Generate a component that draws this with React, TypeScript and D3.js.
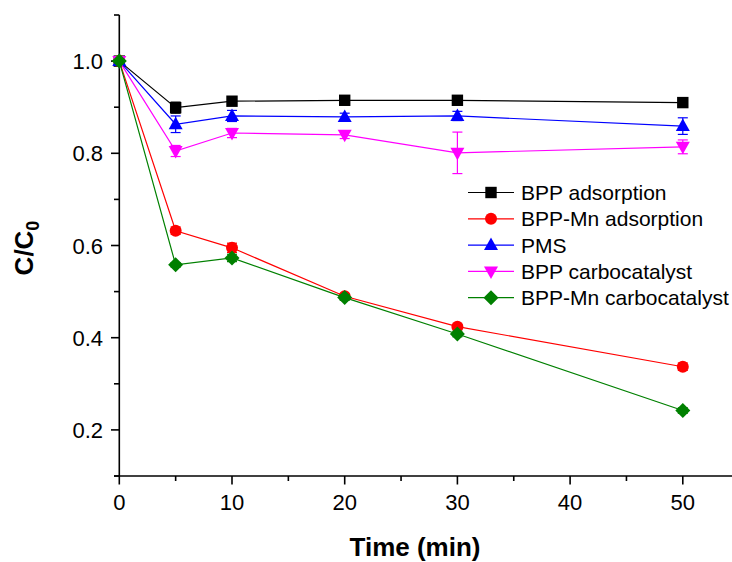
import React from "react";
import * as d3 from "d3";

const times = [0, 5, 10, 20, 30, 50];
const seriesNames = ["BPP adsorption", "BPP-Mn adsorption", "PMS", "BPP carbocatalyst", "BPP-Mn carbocatalyst"];
const bppAds = [1.0, 0.899, 0.913, 0.915, 0.915, 0.91];
const bppMnAds = [1.0, 0.632, 0.595, 0.49, 0.424, 0.337];
const pms = [1.0, 0.863, 0.881, 0.879, 0.881, 0.859];
const bppCat = [1.0, 0.805, 0.844, 0.84, 0.801, 0.814];
const bppMnCat = [1.0, 0.558, 0.573, 0.487, 0.408, 0.242];
const errBppAds = [0, 0.012, 0.005, 0.005, 0.005, 0.005];
const errBppMnAds = [0, 0.008, 0.01, 0.005, 0.005, 0.008];
const errPms = [0, 0.018, 0.012, 0.008, 0.01, 0.018];
const errBppCat = [0, 0.012, 0.01, 0.008, 0.045, 0.015];
const errBppMnCat = [0, 0.005, 0.008, 0.006, 0.006, 0.006];
const xMajorTicks = [0, 10, 20, 30, 40, 50];
const xMinorTicks = [5, 15, 25, 35, 45, 55];
const yMajorTicks = [0.2, 0.4, 0.6, 0.8, 1.0];
const yMinorTicks = [0.1, 0.3, 0.5, 0.7, 0.9, 1.1];

const colors = ["#000000", "#FF0000", "#0000FF", "#FF00FF", "#008000"];
const shapes = ["square", "circle", "triangleUp", "triangleDown", "diamond"];
const values = [bppAds, bppMnAds, pms, bppCat, bppMnCat];
const errors = [errBppAds, errBppMnAds, errPms, errBppCat, errBppMnCat];

const W = 732;
const H = 562;
const x = d3.scaleLinear().domain([0, 55]).range([119.3, 119.3 + 55 * 11.27]);
const y = d3.scaleLinear().domain([0.1, 1.1]).range([476, 15]);
const font = "Liberation Sans, Arial, sans-serif";

function Marker({ shape, cx, cy, color }: { shape: string; cx: number; cy: number; color: string }) {
  if (shape === "square") return <rect x={cx - 5.7} y={cy - 5.7} width={11.4} height={11.4} fill={color} />;
  if (shape === "circle") return <circle cx={cx} cy={cy} r={6} fill={color} />;
  if (shape === "triangleUp")
    return <path d={`M${cx},${cy - 7.5} L${cx + 7},${cy + 5} L${cx - 7},${cy + 5} Z`} fill={color} />;
  if (shape === "triangleDown")
    return <path d={`M${cx},${cy + 7.5} L${cx + 7},${cy - 5} L${cx - 7},${cy - 5} Z`} fill={color} />;
  return <path d={`M${cx},${cy - 7.5} L${cx + 7.5},${cy} L${cx},${cy + 7.5} L${cx - 7.5},${cy} Z`} fill={color} />;
}

export default function App() {
  const line = d3
    .line<number>()
    .x((_, i) => x(times[i]))
    .y((d) => y(d));
  const legendY0 = 192.5;
  const legendDy = 26.3;
  return (
    <svg width={W} height={H} style={{ position: "absolute", left: 0, top: 0, background: "#fff" }}>
      {/* axes */}
      <line x1={119.3} y1={15} x2={119.3} y2={476} stroke="#000" strokeWidth={1.6} />
      <line x1={114} y1={476} x2={W} y2={476} stroke="#000" strokeWidth={1.6} />
      {yMajorTicks.map((t) => (
        <g key={"ym" + t}>
          <line x1={111} x2={119.3} y1={y(t)} y2={y(t)} stroke="#000" strokeWidth={1.6} />
          <text x={103} y={y(t) + 8} textAnchor="end" fontFamily={font} fontSize={22}>
            {t.toFixed(1)}
          </text>
        </g>
      ))}
      {yMinorTicks.map((t) => (
        <line key={"yn" + t} x1={114} x2={119.3} y1={y(t)} y2={y(t)} stroke="#000" strokeWidth={1.6} />
      ))}
      {xMajorTicks.map((t) => (
        <g key={"xm" + t}>
          <line x1={x(t)} x2={x(t)} y1={476} y2={484.5} stroke="#000" strokeWidth={1.6} />
          <text x={x(t)} y={509.5} textAnchor="middle" fontFamily={font} fontSize={22}>
            {t}
          </text>
        </g>
      ))}
      {xMinorTicks.map((t) => (
        <line key={"xn" + t} x1={x(t)} x2={x(t)} y1={476} y2={481} stroke="#000" strokeWidth={1.6} />
      ))}
      <text x={415} y={556} textAnchor="middle" fontFamily={font} fontSize={26} fontWeight="bold">
        Time (min)
      </text>
      <text
        transform="translate(33,248) rotate(-90)"
        textAnchor="middle"
        fontFamily={font}
        fontSize={26}
        fontWeight="bold"
      >
        C/C
        <tspan fontSize={18} dy={6}>
          0
        </tspan>
      </text>

      {/* series */}
      {values.map((vals, si) => (
        <g key={"s" + si}>
          <path d={line(vals) || ""} fill="none" stroke={colors[si]} strokeWidth={1.2} />
          {vals.map((v, i) => {
            const e = errors[si][i];
            if (!e) return null;
            const cx = x(times[i]);
            return (
              <g key={"e" + i} stroke={colors[si]} strokeWidth={1.2}>
                <line x1={cx} x2={cx} y1={y(v - e)} y2={y(v + e)} />
                <line x1={cx - 5} x2={cx + 5} y1={y(v - e)} y2={y(v - e)} />
                <line x1={cx - 5} x2={cx + 5} y1={y(v + e)} y2={y(v + e)} />
              </g>
            );
          })}
          {vals.map((v, i) => (
            <Marker key={"m" + i} shape={shapes[si]} cx={x(times[i])} cy={y(v)} color={colors[si]} />
          ))}
        </g>
      ))}

      {/* legend */}
      {seriesNames.map((name, si) => {
        const ly = legendY0 + si * legendDy;
        return (
          <g key={"l" + si}>
            <line x1={468} x2={514} y1={ly} y2={ly} stroke={colors[si]} strokeWidth={1.2} />
            <Marker shape={shapes[si]} cx={491} cy={ly} color={colors[si]} />
            <text x={521} y={ly + 7.5} fontFamily={font} fontSize={21}>
              {name}
            </text>
          </g>
        );
      })}
    </svg>
  );
}
